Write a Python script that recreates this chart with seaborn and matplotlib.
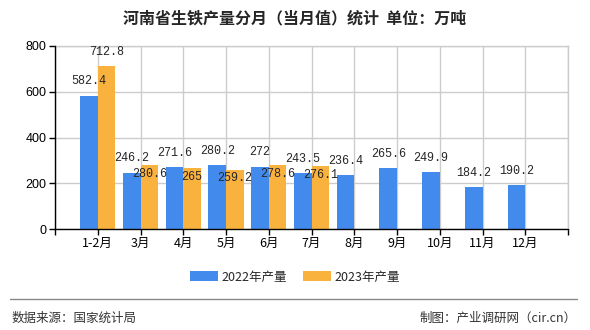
import matplotlib
matplotlib.use("Agg")
import matplotlib.pyplot as plt
import seaborn as sns
import pandas as pd
import numpy as np
from matplotlib.patches import Patch
from matplotlib.lines import Line2D

months = ["1-2月", "3月", "4月", "5月", "6月", "7月", "8月", "9月", "10月", "11月", "12月"]
v2022 = [582.4, 246.2, 271.6, 280.2, 272, 243.5, 236.4, 265.6, 249.9, 184.2, 190.2]
v2023 = [712.8, 280.6, 265, 259.2, 278.6, 276.1]
series = ["2022年产量", "2023年产量"]
colors = ["#428BEC", "#FAB23F"]
title = "河南省生铁产量分月（当月值）统计  单位：万吨"
yticks = [0, 200, 400, 600, 800]

rows = []
for m, v in zip(months, v2022):
    rows.append((m, series[0], v))
for m, v in zip(months, v2023):
    rows.append((m, series[1], v))
df = pd.DataFrame(rows, columns=["month", "series", "value"])

sns.set_theme(style="whitegrid", rc={"grid.color": "#cccccc", "grid.linewidth": 1.0})
plt.rcParams['font.family'] = ['Noto Sans CJK SC', 'DejaVu Sans']

fig = plt.figure(figsize=(5.9, 3.3), dpi=100)
ax = fig.add_axes([55/590, 1-229/330, (568-55)/590, (229-46)/330])

sns.barplot(data=df, x="month", y="value", hue="series", order=months,
            hue_order=series, palette=colors, width=0.82, saturation=1,
            legend=False, ax=ax, zorder=3, linewidth=0, edgecolor='none')

ax.set_xlim(-1, len(months))
ax.set_ylim(0, 800)
ax.set_yticks(yticks)
ax.set_yticklabels([str(t) for t in yticks], fontsize=9, family=['Liberation Sans', 'DejaVu Sans'])
ax.set_xticks(range(-1, len(months) + 1))
ax.set_xticklabels([""] + months + [""], fontsize=9)
ax.set_xlabel("")
ax.set_ylabel("")
ax.tick_params(axis='both', length=4, width=1, color='black', pad=2, direction='out',
               bottom=True, left=True, labelcolor='black')

ax.set_axisbelow(True)
ax.grid(True, axis='both', which='major', color='#cccccc', linewidth=1.0, linestyle='-', alpha=1)
for s in ['top', 'right']:
    ax.spines[s].set_visible(True)
    ax.spines[s].set_color('#cccccc')
    ax.spines[s].set_linewidth(1)
for s in ['left', 'bottom']:
    ax.spines[s].set_visible(True)
    ax.spines[s].set_color('black')
    ax.spines[s].set_linewidth(1)
    ax.spines[s].set_zorder(5)

mono = ['Liberation Mono', 'DejaVu Sans Mono']
for ci, cont in enumerate(ax.containers):
    for j, bar in enumerate(cont):
        h = bar.get_height()
        if h is None or np.isnan(h):
            continue
        cx = bar.get_x() + bar.get_width() / 2
        label = f"{h:g}"
        if ci == 0 or j == 0:
            ax.annotate(label, (cx, h), xytext=(0, 6), textcoords='offset points',
                        ha='center', va='bottom', fontsize=8.5, family=mono, zorder=6)
        else:
            ax.annotate(label, (cx, h), xytext=(0, -2), textcoords='offset points',
                        ha='center', va='top', fontsize=8.5, family=mono, zorder=6)

fig.suptitle(title, x=0.5, y=1-18/330, va='center', fontsize=11.5, fontweight='bold')

handles = [Patch(facecolor=c, edgecolor='none') for c in colors]
fig.legend(handles, series, loc='center', bbox_to_anchor=(0.5, 1-277/330), ncol=2,
           frameon=False, fontsize=9, handlelength=2.2, handleheight=0.8,
           handletextpad=0.3, columnspacing=1.3)

fig.add_artist(Line2D([10/590, 577/590], [1-299/330, 1-299/330], color='#888888', linewidth=1))
fig.text(12/590, 1-318/330, "数据来源：国家统计局", fontsize=9, color='#333333', va='center', ha='left')
fig.text(577/590, 1-318/330, "制图：产业调研网（cir.cn）", fontsize=9, color='#333333', va='center', ha='right')

fig.savefig("out.png", dpi=100)
